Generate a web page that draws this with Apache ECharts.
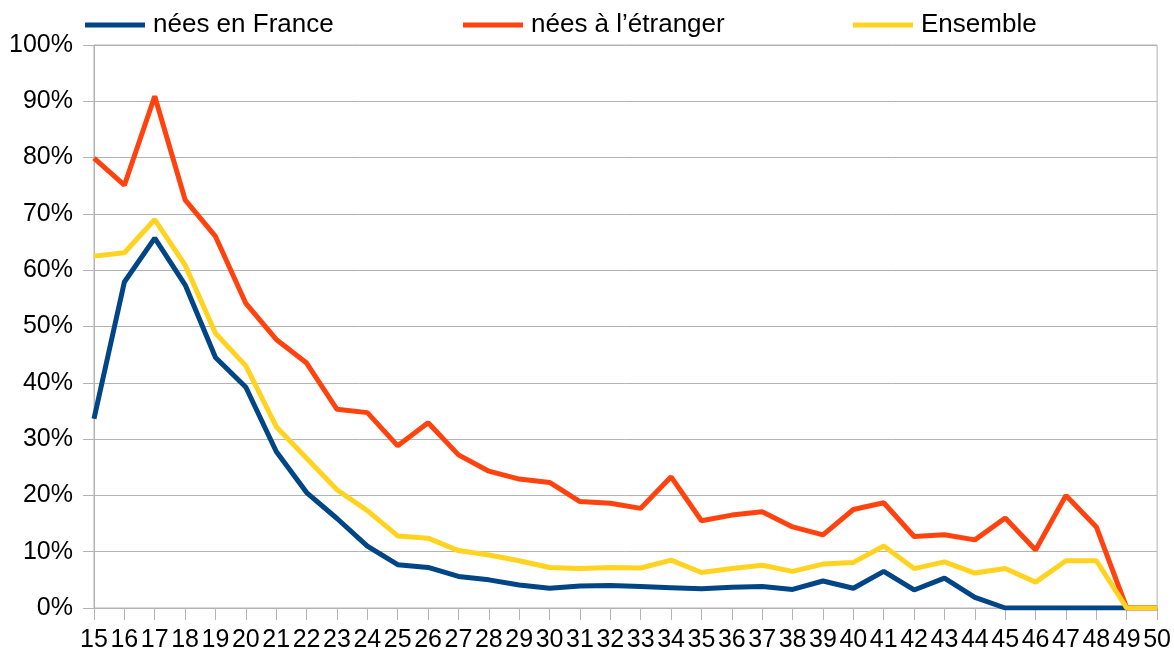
<!DOCTYPE html>
<html>
<head>
<meta charset="utf-8">
<script src="https://cdn.jsdelivr.net/npm/echarts@6/dist/echarts.min.js"></script>
<style>
  html, body { margin: 0; padding: 0; background: #fff; }
  #chart { width: 1174px; height: 653px; }
</style>
</head>
<body>
<div id="chart"></div>
<script>
// âges 15..50
var ages = []
for (var a = 15; a <= 50; a++) ages.push(String(a))

// nées en France (%)
var france = [33.6, 57.9, 65.7, 57.4, 44.5, 39.2, 27.8, 20.5, 15.9, 11.0,
  7.7, 7.2, 5.6, 5.0, 4.1, 3.5, 3.9, 4.0, 3.8, 3.6,
  3.4, 3.7, 3.8, 3.3, 4.8, 3.5, 6.5, 3.2, 5.3, 1.9,
  0, 0, 0, 0, 0, 0]

// nées à l'étranger (%)
var etranger = [79.9, 75.1, 90.9, 72.5, 66.0, 54.1, 47.7, 43.5, 35.3, 34.7,
  28.8, 32.9, 27.2, 24.3, 22.9, 22.3, 18.9, 18.6, 17.7, 23.3,
  15.5, 16.5, 17.1, 14.4, 13.0, 17.5, 18.7, 12.7, 13.0, 12.1,
  16.0, 10.3, 20.0, 14.4, 0, 0]

// Ensemble (%)
var ensemble = [62.5, 63.1, 69.0, 60.9, 48.8, 43.0, 32.2, 26.6, 21.0, 17.3,
  12.8, 12.4, 10.2, 9.4, 8.4, 7.2, 7.0, 7.2, 7.1, 8.5,
  6.3, 7.0, 7.6, 6.5, 7.8, 8.1, 11.0, 7.0, 8.2, 6.2,
  7.0, 4.6, 8.4, 8.4, 0, 0]

var names = ['nées en France', 'nées à l’étranger', 'Ensemble']
var colors = ['#004586', '#ff420e', '#ffd320']
var FONT = '"Liberation Sans", Arial, sans-serif'

var chart = echarts.init(document.getElementById('chart'))

// une légende par série, pour les placer comme dans l'original
function legendAt(i, left) {
  return {
    data: [names[i]],
    left: left,
    top: 7,
    icon: 'rect',
    itemWidth: 60,
    itemHeight: 5,
    textStyle: { fontFamily: FONT, fontSize: 26, color: '#000', padding: [0, 0, 0, 3] }
  }
}

function line(i, data) {
  return {
    name: names[i],
    type: 'line',
    data: data,
    showSymbol: false,
    symbol: 'none',
    lineStyle: { width: 5, color: colors[i] },
    itemStyle: { color: colors[i] },
    animation: false
  }
}

var option = {
  animation: false,
  legend: [legendAt(0, 80), legendAt(1, 458), legendAt(2, 848)],
  grid: {
    left: 94, right: 16, top: 45, bottom: 45,
    show: true, borderColor: '#b3b3b3', borderWidth: 1
  },
  xAxis: {
    type: 'category',
    data: ages,
    boundaryGap: false,
    axisLine: { lineStyle: { color: '#b3b3b3', width: 1 } },
    axisTick: { show: true, length: 12, interval: 0, lineStyle: { color: '#b3b3b3' } },
    axisLabel: { interval: 0, margin: 20, fontFamily: FONT, fontSize: 25, color: '#000' },
    splitLine: { show: false }
  },
  yAxis: {
    type: 'value',
    min: 0,
    max: 100,
    interval: 10,
    axisLine: { show: true, lineStyle: { color: '#b3b3b3', width: 1 } },
    axisTick: { show: true, length: 11, lineStyle: { color: '#b3b3b3' } },
    axisLabel: { margin: 21, fontFamily: FONT, fontSize: 25, color: '#000', formatter: '{value}%' },
    splitLine: { lineStyle: { color: '#b3b3b3', width: 1 } }
  },
  series: [line(0, france), line(1, etranger), line(2, ensemble)]
}

chart.setOption(option)
</script>
</body>
</html>
